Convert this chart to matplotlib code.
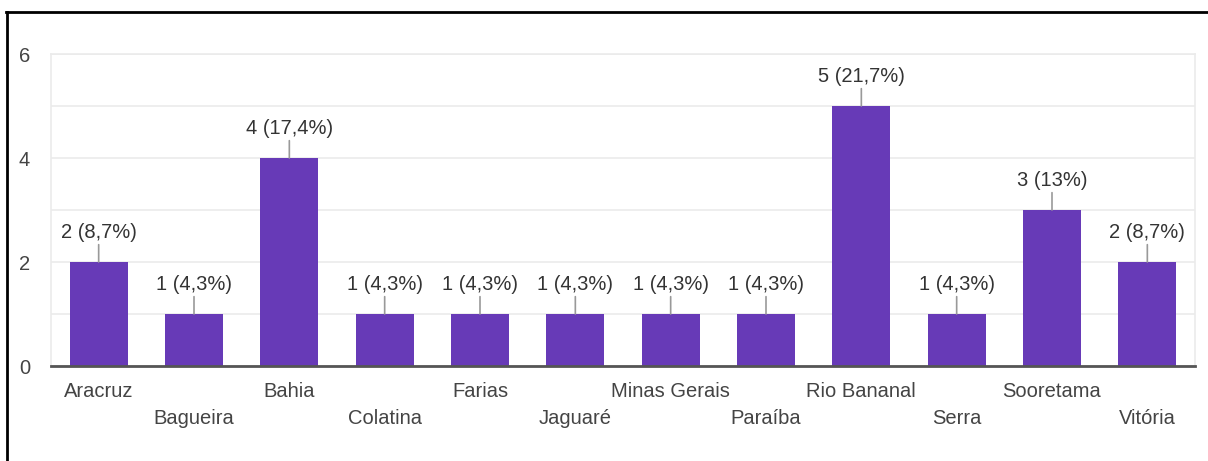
import matplotlib.pyplot as plt
from matplotlib.lines import Line2D

plt.rcParams['font.family'] = ['Liberation Sans', 'DejaVu Sans']

cidades = ["Aracruz", "Bagueira", "Bahia", "Colatina", "Farias", "Jaguaré",
           "Minas Gerais", "Paraíba", "Rio Bananal", "Serra", "Sooretama", "Vitória"]
respostas = [2, 1, 4, 1, 1, 1, 1, 1, 5, 1, 3, 2]
rotulos = ["2 (8,7%)", "1 (4,3%)", "4 (17,4%)", "1 (4,3%)", "1 (4,3%)", "1 (4,3%)",
           "1 (4,3%)", "1 (4,3%)", "5 (21,7%)", "1 (4,3%)", "3 (13%)", "2 (8,7%)"]

roxo = "#673ab7"
cinza_txt = "#444444"
tam = 14.5

fig = plt.figure(figsize=(12.08, 4.61), dpi=100)
ax = fig.add_axes([51 / 1208, 1 - 366 / 461, (1195 - 51) / 1208, (366 - 54) / 461])

x = list(range(len(cidades)))
ax.bar(x, respostas, width=0.61, color=roxo, zorder=3)

ax.set_xlim(-0.5, len(cidades) - 0.5)
ax.set_ylim(0, 6)
ax.set_yticks([0, 2, 4, 6])
ax.set_yticks([1, 3, 5], minor=True)
ax.grid(axis="y", which="both", color="#ebebeb", linewidth=1.2, zorder=0)
ax.tick_params(axis="y", which="both", length=0, pad=15, labelsize=tam, labelcolor=cinza_txt)
ax.tick_params(axis="x", length=0)
ax.set_xticks([])

for lado in ["left", "right", "top"]:
    ax.spines[lado].set_color("#ebebeb")
    ax.spines[lado].set_linewidth(1.2)
ax.spines["bottom"].set_color("#555555")
ax.spines["bottom"].set_linewidth(2)
ax.spines["bottom"].set_zorder(4)

# rótulos do eixo x alternados em duas linhas
for i, nome in enumerate(cidades):
    desloc = -18 if i % 2 == 0 else -38
    ax.annotate(nome, xy=(i, 0), xycoords=("data", "axes fraction"),
                xytext=(0, desloc), textcoords="offset points",
                ha="center", va="center", fontsize=tam, color=cinza_txt)

# rótulos de valor com linha guia
for i, (v, r) in enumerate(zip(respostas, rotulos)):
    ax.annotate("", xy=(i, v), xytext=(0, 12.5), textcoords="offset points",
                arrowprops=dict(arrowstyle="-", color="#999999", lw=1.2,
                                shrinkA=0, shrinkB=0))
    ax.annotate(r, xy=(i, v), xytext=(0, 21), textcoords="offset points",
                ha="center", va="center", fontsize=tam, color="#333333")

# moldura preta da captura
fig.add_artist(Line2D([7 / 1208, 7 / 1208], [0, 1 - 12 / 461], color="black",
                      lw=2, transform=fig.transFigure))
fig.add_artist(Line2D([6 / 1208, 1], [1 - 12 / 461, 1 - 12 / 461], color="black",
                      lw=2, transform=fig.transFigure))

fig.savefig("out.png", dpi=100)
